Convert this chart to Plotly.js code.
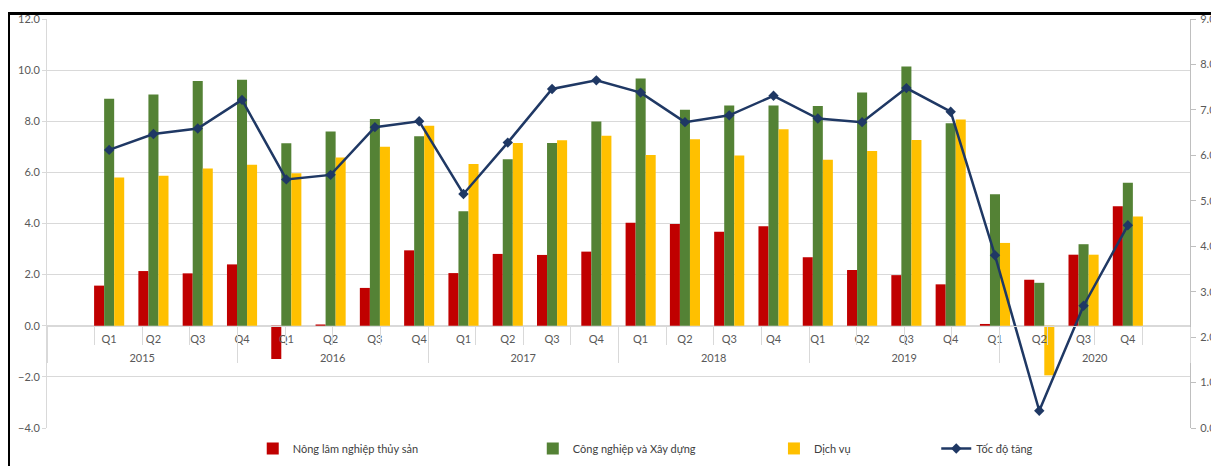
<!DOCTYPE html>
<html>
<head>
<meta charset="utf-8">
<script src="https://cdn.plot.ly/plotly-3.0.1.min.js"></script>
<style>
  html, body { margin: 0; padding: 0; background: #ffffff; overflow: hidden; }
  #wrap { position: relative; width: 1211px; height: 466px; }
  #chart { position: absolute; left: 0; top: 0; width: 1211px; height: 466px; }
  #frame { position: absolute; left: 8px; top: 12px; width: 1210px; height: 460px;
           border-left: 2px solid #000; border-top: 3px solid #000; pointer-events: none; }
</style>
</head>
<body>
<div id="wrap">
  <div id="chart"></div>
  <div id="frame"></div>
</div>
<script>
// ---- data ----
const years = ['2015', '2016', '2017', '2018', '2019', '2020'];
const quarters = ['Q1', 'Q2', 'Q3', 'Q4'];

const seriesNames = ['Nông lâm nghiệp thủy sản', 'Công nghiệp và Xây dựng', 'Dịch vụ', 'Tốc độ tăng'];

// Nông lâm nghiệp thủy sản
const agri = [1.57, 2.14, 2.05, 2.40,
              -1.30, 0.05, 1.48, 2.95,
              2.06, 2.81, 2.77, 2.90,
              4.03, 3.98, 3.68, 3.89,
              2.68, 2.18, 1.98, 1.62,
              0.07, 1.80, 2.78, 4.67];
// Công nghiệp và Xây dựng
const industry = [8.88, 9.05, 9.57, 9.62,
                  7.14, 7.60, 8.09, 7.41,
                  4.48, 6.51, 7.15, 7.99,
                  9.67, 8.45, 8.62, 8.62,
                  8.60, 9.12, 10.14, 7.92,
                  5.14, 1.68, 3.19, 5.59];
// Dịch vụ
const services = [5.80, 5.87, 6.15, 6.30,
                  5.97, 6.58, 7.00, 7.82,
                  6.33, 7.15, 7.26, 7.43,
                  6.68, 7.30, 6.66, 7.69,
                  6.49, 6.84, 7.27, 8.07,
                  3.24, -1.94, 2.78, 4.27];
// Tốc độ tăng (right axis)
const growth = [6.12, 6.47, 6.59, 7.22,
                5.47, 5.57, 6.62, 6.75,
                5.15, 6.28, 7.46, 7.65,
                7.38, 6.73, 6.88, 7.31,
                6.81, 6.73, 7.48, 6.96,
                3.80, 0.38, 2.69, 4.46];

// ---- categories built from the arrays ----
const cats = [], qLabels = [];
years.forEach(y => quarters.forEach(q => { cats.push(y + ' ' + q); qLabels.push(q); }));
const nQ = quarters.length;
const nCat = cats.length;
const yearCenters = years.map((_, i) => i * nQ + (nQ - 1) / 2);

const colors = ['#C00000', '#548235', '#FFC000', '#1F3864'];
const fontFam = 'Lato, "Liberation Sans", Arial, sans-serif';
const gridC = '#d9d9d9';

const traces = [
  { type: 'bar', name: seriesNames[0], x: cats, y: agri, marker: { color: colors[0] }, legend: 'legend' },
  { type: 'bar', name: seriesNames[1], x: cats, y: industry, marker: { color: colors[1] }, legend: 'legend2' },
  { type: 'bar', name: seriesNames[2], x: cats, y: services, marker: { color: colors[2] }, legend: 'legend3' },
  { type: 'scatter', mode: 'lines+markers', name: seriesNames[3], x: cats, y: growth, yaxis: 'y2',
    line: { color: colors[3], width: 2.5 }, marker: { symbol: 'diamond', size: 8, color: colors[3] },
    legend: 'legend4' },
  // empty helper traces so the boundary-tick axis and the year-label axis are drawn
  { type: 'scatter', x: [], y: [], xaxis: 'x2', showlegend: false, hoverinfo: 'skip' },
  { type: 'scatter', x: [], y: [], xaxis: 'x3', showlegend: false, hoverinfo: 'skip' }
];

function leg(x) {
  return { x: x, y: -0.05, xanchor: 'left', yanchor: 'middle', orientation: 'h',
           bgcolor: 'rgba(0,0,0,0)', font: { family: fontFam, size: 11, color: '#404040' } };
}

const idxRange = [-0.5, nCat - 0.5];

const layout = {
  width: 1211, height: 466,
  margin: { l: 47, r: 21, t: 19, b: 38, autoexpand: false },
  paper_bgcolor: '#ffffff', plot_bgcolor: '#ffffff',
  barmode: 'group', bargap: 0.32, bargroupgap: 0,
  font: { family: fontFam, size: 11, color: '#595959' },
  xaxis: {
    type: 'category', anchor: 'free', position: 0.25,
    tickmode: 'array', tickvals: cats, ticktext: qLabels,
    showline: true, linecolor: gridC, linewidth: 1,
    ticks: '', ticklabelstandoff: 3,
    showgrid: false, zeroline: false, automargin: false,
    tickfont: { family: fontFam, size: 11, color: '#595959' }
  },
  xaxis2: {
    type: 'linear', overlaying: 'x', anchor: 'free', position: 0.25, range: idxRange,
    tick0: -0.5, dtick: nQ, ticks: 'outside', ticklen: 36, tickcolor: gridC, tickwidth: 1,
    minor: { tick0: -0.5, dtick: 1, ticks: 'outside', ticklen: 18, tickcolor: gridC, showgrid: false },
    showticklabels: false, showline: false, showgrid: false, zeroline: false, automargin: false
  },
  xaxis3: {
    type: 'linear', overlaying: 'x', anchor: 'free', position: 0.25, range: idxRange,
    tickmode: 'array', tickvals: yearCenters, ticktext: years,
    ticks: '', ticklabelstandoff: 24,
    showline: false, showgrid: false, zeroline: false, automargin: false,
    tickfont: { family: fontFam, size: 11, color: '#595959' }
  },
  yaxis: {
    range: [-4, 12], dtick: 2, tick0: 0, tickformat: '.1f',
    showgrid: true, gridcolor: gridC, gridwidth: 1,
    zeroline: false, showline: true, linecolor: gridC,
    ticks: 'outside', ticklen: 4, tickcolor: gridC, automargin: false,
    tickfont: { family: fontFam, size: 11, color: '#595959' }
  },
  yaxis2: {
    overlaying: 'y', side: 'right', range: [0, 9], dtick: 1, tick0: 0, tickformat: '.1f',
    showgrid: false, zeroline: false, showline: true, linecolor: '#bfbfbf',
    ticks: 'outside', ticklen: 5, tickcolor: '#bfbfbf', automargin: false,
    ticklabelstandoff: 2,
    tickfont: { family: fontFam, size: 11, color: '#595959' }
  },
  legend: leg(0.18),
  legend2: leg(0.425),
  legend3: leg(0.636),
  legend4: leg(0.778),
  showlegend: true
};

Plotly.newPlot('chart', traces, layout, { displayModeBar: false, staticPlot: true });
</script>
</body>
</html>
